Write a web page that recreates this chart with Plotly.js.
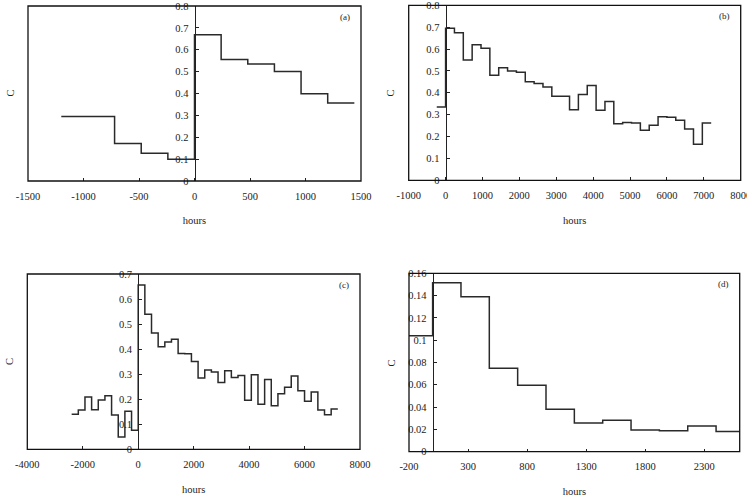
<!DOCTYPE html>
<html>
<head>
<meta charset="utf-8">
<script src="https://cdn.plot.ly/plotly-3.0.1.min.js"></script>
<style>
  html, body { margin: 0; padding: 0; background: #fff; }
  #chart { width: 747px; height: 500px; }
</style>
</head>
<body>
<div id="chart"></div>
<script>
// Step series: bin edges (hours) and the value C held over each bin.
const hoursA = [-1200, -960, -720, -480, -240, 0, 240, 480, 720, 960, 1200, 1440];
const cA = [0.295, 0.295, 0.171, 0.127, 0.100, 0.669, 0.555, 0.535, 0.501, 0.399, 0.357];

const hoursB = [-240, 0, 240, 480, 720, 960, 1200, 1440, 1680, 1920, 2160, 2400, 2640, 2880, 3120,
  3360, 3600, 3840, 4080, 4320, 4560, 4800, 5040, 5280, 5520, 5760, 6000, 6240, 6480, 6720, 6960, 7200];
const cB = [0.335, 0.695, 0.675, 0.550, 0.620, 0.604, 0.480, 0.514, 0.500, 0.494, 0.451, 0.442,
  0.427, 0.384, 0.384, 0.323, 0.392, 0.433, 0.320, 0.360, 0.258, 0.264, 0.262, 0.229, 0.252,
  0.290, 0.288, 0.274, 0.235, 0.165, 0.262];

const hoursC = [-2400, -2160, -1920, -1680, -1440, -1200, -960, -720, -480, -240, 0, 240, 480, 720,
  960, 1200, 1440, 1680, 1920, 2160, 2400, 2640, 2880, 3120, 3360, 3600, 3840, 4080, 4320, 4560,
  4800, 5040, 5280, 5520, 5760, 6000, 6240, 6480, 6720, 6960, 7200];
const cC = [0.140, 0.157, 0.209, 0.158, 0.197, 0.214, 0.137, 0.049, 0.152, 0.076, 0.656, 0.539,
  0.464, 0.409, 0.428, 0.439, 0.383, 0.382, 0.351, 0.285, 0.317, 0.309, 0.267, 0.314, 0.287,
  0.295, 0.196, 0.298, 0.180, 0.279, 0.174, 0.222, 0.248, 0.293, 0.234, 0.192, 0.229, 0.157,
  0.138, 0.161];

const hoursD = [-240, 0, 240, 480, 720, 960, 1200, 1440, 1680, 1920, 2160, 2400, 2640];
const cD = [0.1040, 0.1516, 0.1390, 0.0748, 0.0595, 0.0380, 0.0257, 0.0281, 0.0194, 0.0188, 0.0230, 0.0182];

// Tick values per panel (labels are written with a plain hyphen)
const xTicksA = [-1500, -1000, -500, 0, 500, 1000, 1500];
const xTicksB = [-1000, 0, 1000, 2000, 3000, 4000, 5000, 6000, 7000, 8000];
const xTicksC = [-4000, -2000, 0, 2000, 4000, 6000, 8000];
const xTicksD = [-200, 300, 800, 1300, 1800, 2300];
const yTicksAB = ['0', '0.1', '0.2', '0.3', '0.4', '0.5', '0.6', '0.7', '0.8'];
const yTicksC = ['0', '0.1', '0.2', '0.3', '0.4', '0.5', '0.6', '0.7'];
const yTicksD = ['0', '0.02', '0.04', '0.06', '0.08', '0.1', '0.12', '0.14', '0.16'];

const panelTags = ['(a)', '(b)', '(c)', '(d)'];
const xRanges = [[-1500, 1500], [-1000, 8000], [-4000, 8000], [-200, 2600]];
const yRanges = [[0, 0.8], [0, 0.8], [0, 0.7], [0, 0.16]];
const xTicks = [xTicksA, xTicksB, xTicksC, xTicksD];
const yTicks = [yTicksAB, yTicksAB, yTicksC, yTicksD];

const series = [[hoursA, cA], [hoursB, cB], [hoursC, cC], [hoursD, cD]];

// Plot boxes in page pixels: [left, right, top, bottom]
const W = 747, H = 500;
const boxes = [
  [28, 361, 6, 181],
  [408.7, 740.7, 5.3, 180.3],
  [27.3, 360, 274, 449.3],
  [409, 739.7, 273.3, 451.7]
];

const FONT = 'Liberation Serif, Times New Roman, serif';
const INK = '#222';

const traces = [];
const layout = {
  width: W, height: H,
  margin: {l: 0, r: 0, t: 0, b: 0},
  paper_bgcolor: '#fff', plot_bgcolor: '#fff',
  showlegend: false,
  font: {family: FONT, size: 10.5, color: INK},
  shapes: [], annotations: []
};

series.forEach(([hrs, vals], i) => {
  const n = i === 0 ? '' : String(i + 1);
  const xa = 'x' + n, ya = 'y' + n;
  const [l, r, t, b] = boxes[i];
  const xd = [l / W, r / W];
  const yd = [1 - b / H, 1 - t / H];

  traces.push({
    type: 'scatter', mode: 'lines',
    x: hrs, y: vals.concat([vals[vals.length - 1]]),
    line: {shape: 'hv', color: '#2a2a2a', width: 1.5},
    xaxis: xa, yaxis: ya, hoverinfo: 'skip', cliponaxis: true
  });

  // vertical axis sits at hours = 0 inside the box
  const [x0, x1] = xRanges[i];
  const yPos = xd[0] + (0 - x0) / (x1 - x0) * (xd[1] - xd[0]);

  layout['xaxis' + n] = {
    domain: xd, range: xRanges[i],
    tickmode: 'array', tickvals: xTicks[i], ticktext: xTicks[i].map(String),
    anchor: ya, showgrid: false, zeroline: false, showline: false,
    ticks: 'inside', ticklen: 3, tickwidth: 1, tickcolor: INK,
    ticklabelstandoff: 7, ticklabeloverflow: 'allow',
    tickfont: {family: FONT, size: 10.5, color: INK},
    title: {text: 'hours', font: {family: FONT, size: 10.5, color: INK}, standoff: 16},
    automargin: false, fixedrange: true
  };
  layout['yaxis' + n] = {
    domain: yd, range: yRanges[i],
    tickmode: 'array', tickvals: yTicks[i].map(Number), ticktext: yTicks[i],
    anchor: 'free', position: yPos,
    showgrid: false, zeroline: false, showline: true, linecolor: INK, linewidth: 1,
    ticks: 'inside', ticklen: 3, tickwidth: 1, tickcolor: INK,
    ticklabelstandoff: 4, ticklabeloverflow: 'allow',
    tickfont: {family: FONT, size: 10.5, color: INK},
    automargin: false, fixedrange: true
  };

  // frame around the plotting area
  layout.shapes.push({
    type: 'rect', xref: xa + ' domain', yref: ya + ' domain',
    x0: 0, x1: 1, y0: 0, y1: 1,
    line: {color: '#111', width: 1.3}, layer: 'above'
  });

  // panel tag
  layout.annotations.push({
    text: panelTags[i], xref: xa + ' domain', yref: ya + ' domain',
    x: 1, y: 1, xanchor: 'right', yanchor: 'middle', xshift: -9, yshift: -11,
    showarrow: false, font: {family: FONT, size: 9, color: INK}
  });

  // quantity label left of the frame
  layout.annotations.push({
    text: 'C', xref: 'paper', yref: 'paper',
    x: (l - 18) / W, y: (yd[0] + yd[1]) / 2,
    xanchor: 'center', yanchor: 'middle', textangle: -90,
    showarrow: false, font: {family: FONT, size: 10.5, color: INK}
  });
});

Plotly.newPlot('chart', traces, layout, {displayModeBar: false, staticPlot: true});
</script>
</body>
</html>
